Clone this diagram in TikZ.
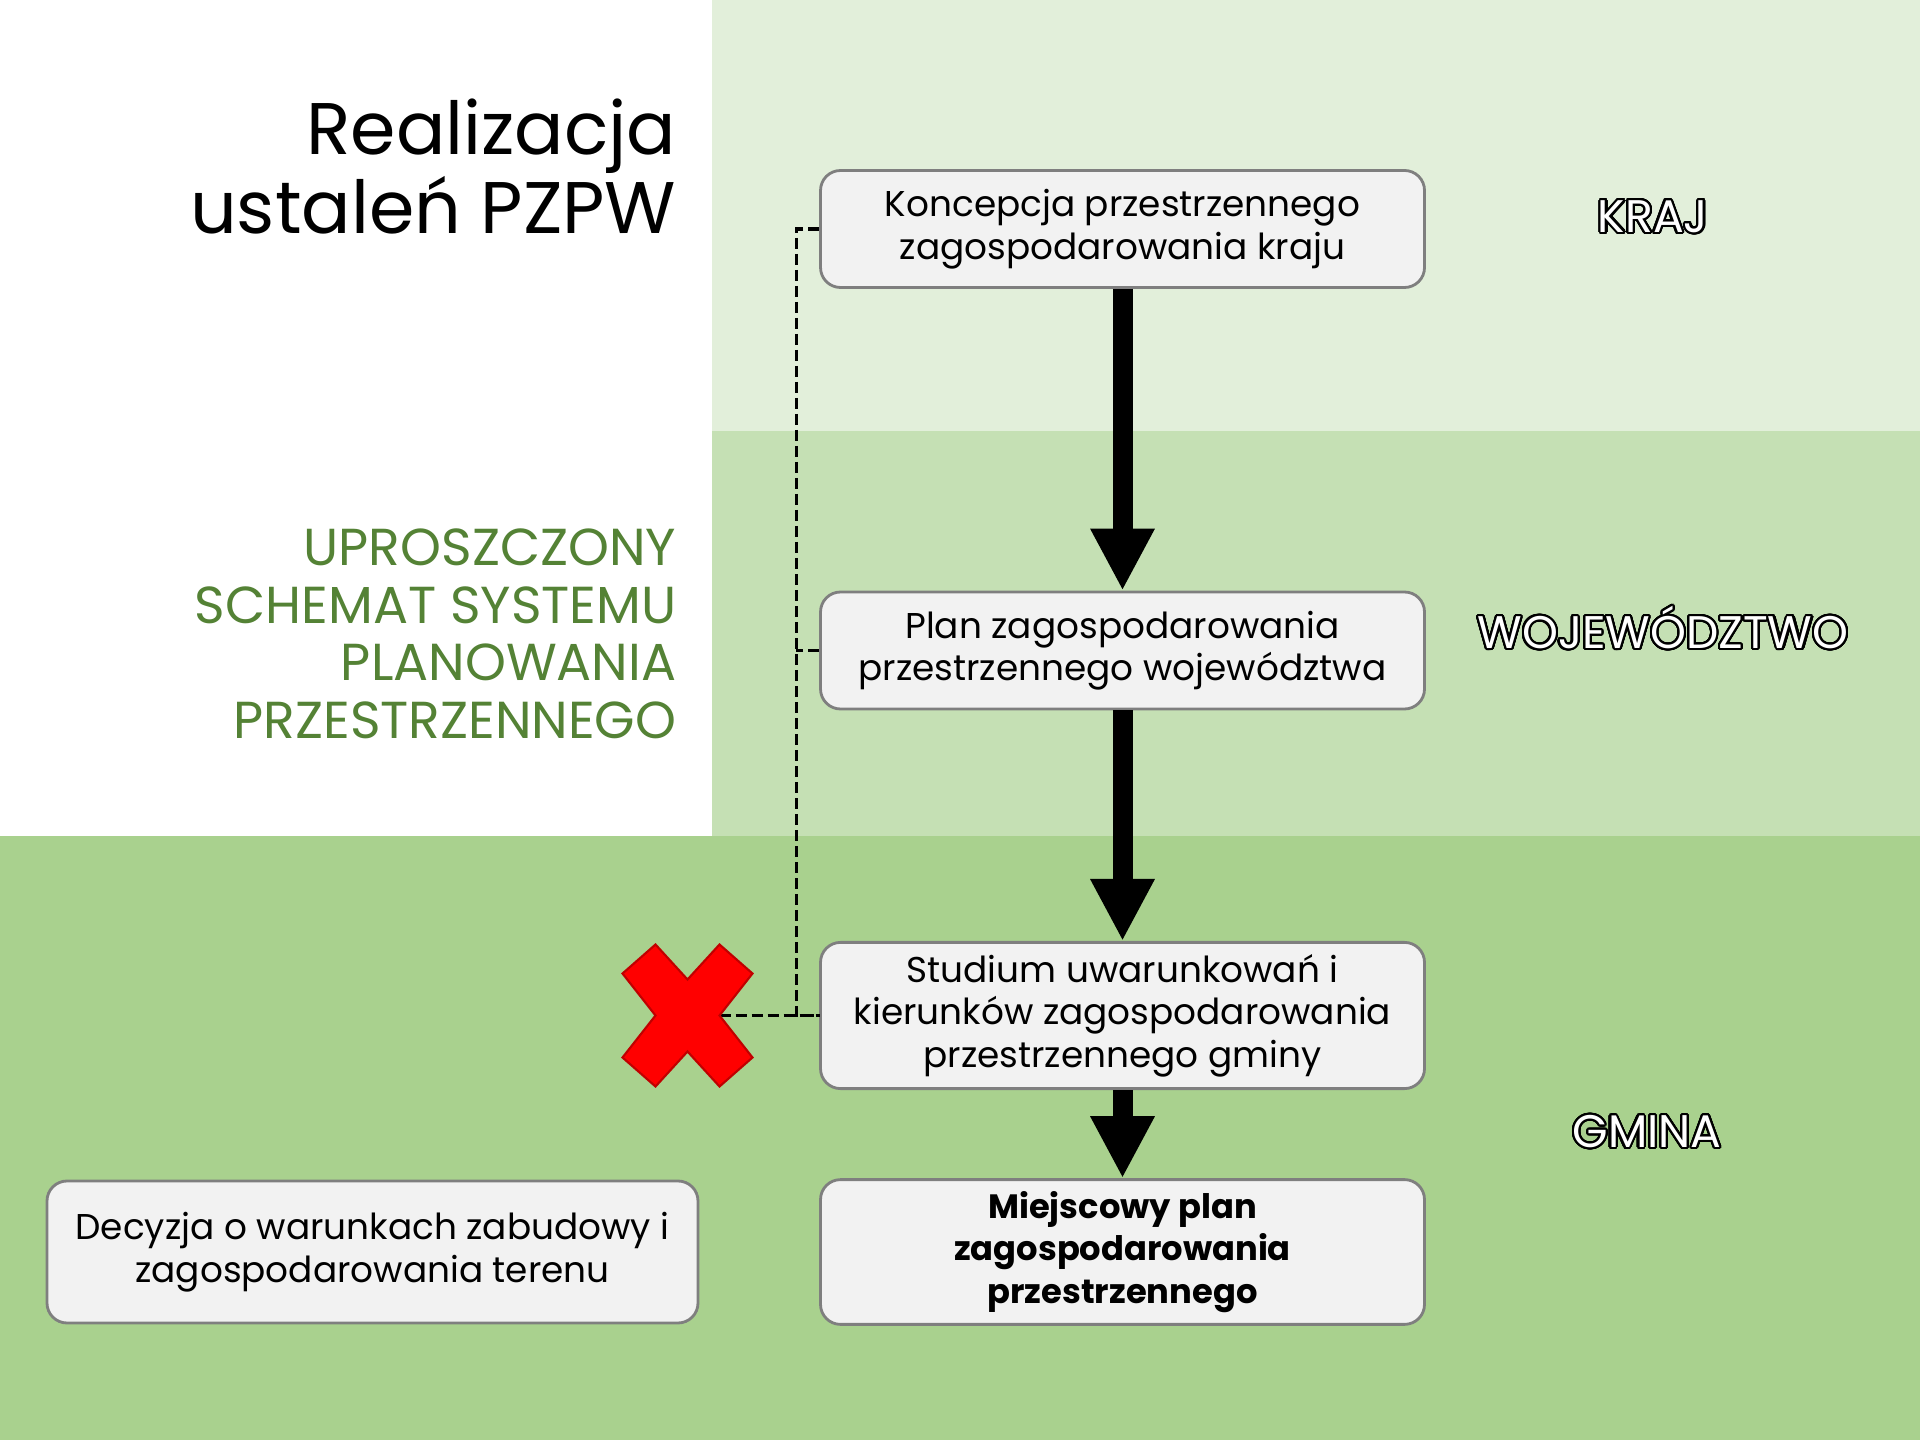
\documentclass[tikz,border=0pt]{standalone}
\usepackage{fontspec}
\setmainfont{Poppins}
\usepackage[copies]{contour}
\usetikzlibrary{arrows.meta,positioning}
\tikzset{>=latex}
\contourlength{0.6pt}
\contournumber{32}
\definecolor{krajbg}{HTML}{E2EFDA}
\definecolor{wojbg}{HTML}{C5E0B4}
\definecolor{gminabg}{HTML}{A9D18E}
\definecolor{boxfill}{HTML}{F2F2F2}
\definecolor{boxline}{HTML}{7F7F7F}
\definecolor{schemegreen}{HTML}{548235}
\definecolor{crossred}{HTML}{FF0000}
\definecolor{crossdark}{HTML}{C00000}

\begin{document}
\begin{tikzpicture}[
  box/.style={draw=boxline,fill=boxfill,line width=0.8pt,rounded corners=0.2cm,minimum width=6.04cm,align=center,font=\fontsize{10.2}{12.1}\selectfont},
  flow/.style={-{Triangle[width=0.6cm,length=0.62cm]},line width=0.2cm},
  link/.style={dash pattern=on 0.11cm off 0.05cm,line width=0.9pt},
  level/.style={anchor=base,text=white,font=\fontsize{13}{15}\selectfont}]
% levels in the background
\useasboundingbox (0,0) rectangle (19.2,14.4);
\fill[white] (0,6.04) rectangle (7.115,14.4);
\fill[krajbg] (7.115,10.09) rectangle (19.2,14.4);
\fill[wojbg] (7.115,6.04) rectangle (19.2,10.09);
\fill[gminabg] (0,0) rectangle (19.2,6.04);

\node[anchor=base east,align=right,inner sep=0,font=\fontsize{20.8}{22.5}\selectfont] (title) at (6.77,12.06) {Realizacja\\ustaleń PZPW};
\node[anchor=base east,align=right,inner sep=0,text=schemegreen,font=\fontsize{14.8}{16.4}\selectfont] (scheme) at (6.77,7.014) {UPROSZCZONY\\SCHEMAT SYSTEMU\\PLANOWANIA\\PRZESTRZENNEGO};

\node[level] (kraj) at (16.53,12.075) {\contour{black}{KRAJ}};
\node[level] (woj) at (16.63,7.915) {\contour{black}{WOJEWÓDZTWO}};
\node[level] (gmina) at (16.47,2.925) {\contour{black}{GMINA}};

% documents
\node[box,minimum height=1.17cm] (k) at (11.225,12.11) {Koncepcja przestrzennego\\zagospodarowania kraju};
\node[box,minimum height=1.17cm] (p) at (11.225,7.895) {Plan zagospodarowania\\przestrzennego województwa};
\node[box,minimum height=1.43cm] (s) at (11.225,4.245) {Studium uwarunkowań i\\kierunków zagospodarowania\\przestrzennego gminy};
\node[box,minimum height=1.42cm,font=\fontsize{9.6}{12.1}\selectfont\bfseries] (m) at (11.225,1.88) {Miejscowy plan\\zagospodarowania\\przestrzennego};
\node[box,minimum width=6.51cm,minimum height=1.42cm] (d) at (3.725,1.88) {Decyzja o warunkach zabudowy i\\zagospodarowania terenu};

\draw[flow] (k) -- (p);
\draw[flow] (p) -- (s);
\draw[flow] (s) -- (m);

% dashed link and the cross
\coordinate (cross) at (6.875,4.245);
\draw[link] (k.west) -- ++(-0.23,0) |- (s.west);
\draw[link] (p.west) -- ++(-0.23,0);
\draw[link] (cross) -- (s.west);
\filldraw[fill=crossred,draw=crossdark,line width=0.6pt,shift={(cross)}] (-0.65,0.42) -- (-0.32,0.71) -- (0,0.36) -- (0.32,0.71) -- (0.65,0.42) -- (0.32,0) -- (0.65,-0.42) -- (0.32,-0.71) -- (0,-0.36) -- (-0.32,-0.71) -- (-0.65,-0.42) -- (-0.32,0) -- cycle;
\end{tikzpicture}
\end{document}
